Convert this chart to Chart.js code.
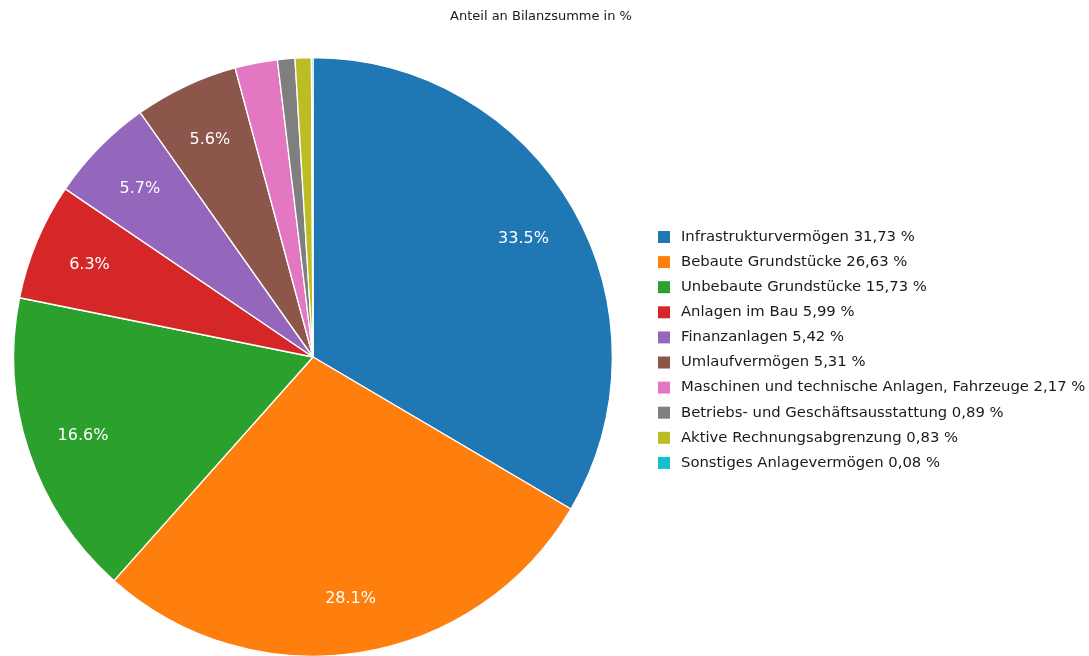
<!DOCTYPE html>
<html>
<head>
<meta charset="utf-8">
<script src="https://cdn.jsdelivr.net/npm/chart.js@4"></script>
<style>
  html, body { margin: 0; padding: 0; background: #fff; overflow: hidden; }
  #wrap { width: 1089px; height: 656px; overflow: hidden; }
</style>
</head>
<body>
<div id="wrap"><canvas id="grafico" width="1089" height="700"></canvas></div>
<script>
const categorias = [
    'Infrastrukturvermögen',
    'Bebaute Grundstücke',
    'Unbebaute Grundstücke',
    'Anlagen im Bau',
    'Finanzanlagen',
    'Umlaufvermögen',
    'Maschinen und technische Anlagen, Fahrzeuge',
    'Betriebs- und Geschäftsausstattung',
    'Aktive Rechnungsabgrenzung',
    'Sonstiges Anlagevermögen'
];
const anteile = [31.73, 26.63, 15.73, 5.99, 5.42, 5.31, 2.17, 0.89, 0.83, 0.08];
const farben = ['#1f77b4', '#ff7f0e', '#2ca02c', '#d62728', '#9467bd',
                '#8c564b', '#e377c2', '#7f7f7f', '#bcbd22', '#17becf'];
const titel = 'Anteil an Bilanzsumme in %';

const schrift = '"DejaVu Sans", Verdana, sans-serif';

// Prozentwerte in die Tortenstücke schreiben (nur größere Stücke)
const prozentLabels = {
    id: 'prozentLabels',
    afterDatasetsDraw(chart) {
        const ctx = chart.ctx;
        const meta = chart.getDatasetMeta(0);
        const summe = anteile.reduce((a, b) => a + b, 0);
        ctx.save();
        ctx.fillStyle = '#fff';
        ctx.font = '16px ' + schrift;
        ctx.textAlign = 'center';
        ctx.textBaseline = 'middle';
        meta.data.forEach((arc, i) => {
            const p = anteile[i] / summe * 100;
            if (p < 4) return;
            const mitte = (arc.startAngle + arc.endAngle) / 2;
            const r = arc.outerRadius * 0.81;
            ctx.fillText(p.toFixed(1) + '%', arc.x + Math.cos(mitte) * r, arc.y + Math.sin(mitte) * r + 2);
        });
        ctx.restore();
    }
};

// Legende rechts und Titel oben
const legendeRechts = {
    id: 'legendeRechts',
    afterDraw(chart) {
        const ctx = chart.ctx;
        ctx.save();
        ctx.fillStyle = '#1a1a1a';
        ctx.font = '13px ' + schrift;
        ctx.textAlign = 'center';
        ctx.textBaseline = 'middle';
        ctx.fillText(titel, 541, 17);

        ctx.font = '14.8px ' + schrift;
        ctx.textAlign = 'left';
        categorias.forEach((nome, i) => {
            const y = 237 + i * 25.1;
            ctx.fillStyle = farben[i];
            ctx.fillRect(658, y - 6, 12, 12);
            ctx.fillStyle = '#1a1a1a';
            ctx.fillText(nome + ' ' + anteile[i].toFixed(2).replace('.', ',') + ' %', 681, y);
        });
        ctx.restore();
    }
};

new Chart(document.getElementById('grafico'), {
    type: 'pie',
    data: {
        labels: categorias,
        datasets: [{
            data: anteile,
            backgroundColor: farben,
            borderColor: '#fff',
            borderWidth: 1.3
        }]
    },
    options: {
        responsive: false,
        animation: false,
        layout: {
            padding: { left: 13, right: 476, top: 57, bottom: 43 }
        },
        plugins: {
            legend: { display: false },
            tooltip: { enabled: false }
        }
    },
    plugins: [prozentLabels, legendeRechts]
});
</script>
</body>
</html>
